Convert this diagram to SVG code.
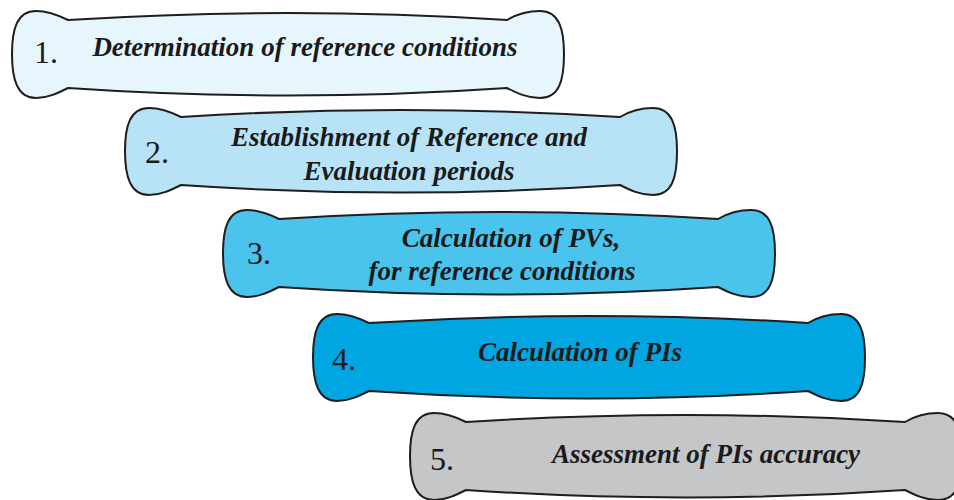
<svg xmlns="http://www.w3.org/2000/svg" xmlns:xlink="http://www.w3.org/1999/xlink" width="954" height="500" viewBox="0 0 954 500">
<style>
.bone{stroke:#1e1e1e;stroke-width:2;}
.num{font-family:"Liberation Serif","Times New Roman",serif;font-size:32px;fill:#1a1a1a;}
.lbl{font-family:"Liberation Serif","Times New Roman",serif;font-size:27px;font-weight:bold;font-style:italic;fill:#1a1a1a;text-anchor:middle;}
</style>
<defs>
<path id="bone" d="M56,9 Q276,-5 495,9 C505,3 515,0 528,0 C547,0 552,18 552,43 C552,70 547,87 528,87 C515,87 505,82 495,77 Q276,92 56,77 C46,82 36,87 24,87 C5,87 0,68 0,43 C0,18 5,0 24,0 C36,0 46,4 56,9 Z"/>
</defs>
<rect width="954" height="500" fill="#ffffff"/>
<g id="step1">
<use xlink:href="#bone" href="#bone" class="bone" fill="#e7f5fc" transform="translate(12,11)"/>
<text class="num" x="34" y="63">1.</text>
<text class="lbl" x="305" y="56">Determination of reference conditions</text>
</g>
<g id="step2">
<use xlink:href="#bone" href="#bone" class="bone" fill="#b8e2f6" transform="translate(125,108)"/>
<text class="num" x="145" y="163">2.</text>
<text class="lbl" x="409" y="146">Establishment of Reference and</text>
<text class="lbl" x="409" y="180">Evaluation periods</text>
</g>
<g id="step3">
<use xlink:href="#bone" href="#bone" class="bone" fill="#4ac4ed" transform="translate(223,210)"/>
<text class="num" x="247" y="264">3.</text>
<text class="lbl" x="511" y="247">Calculation of PVs,</text>
<text class="lbl" x="502" y="280">for reference conditions</text>
</g>
<g id="step4">
<use xlink:href="#bone" href="#bone" class="bone" fill="#00a6e1" transform="translate(313,314)"/>
<text class="num" x="332" y="370">4.</text>
<text class="lbl" x="580" y="361">Calculation of PIs</text>
</g>
<g id="step5">
<use xlink:href="#bone" href="#bone" class="bone" fill="#c4c6c8" transform="translate(410,413)"/>
<text class="num" x="430" y="470">5.</text>
<text class="lbl" x="706" y="463">Assessment of PIs accuracy</text>
</g>
<g id="connectors"></g>
</svg>
